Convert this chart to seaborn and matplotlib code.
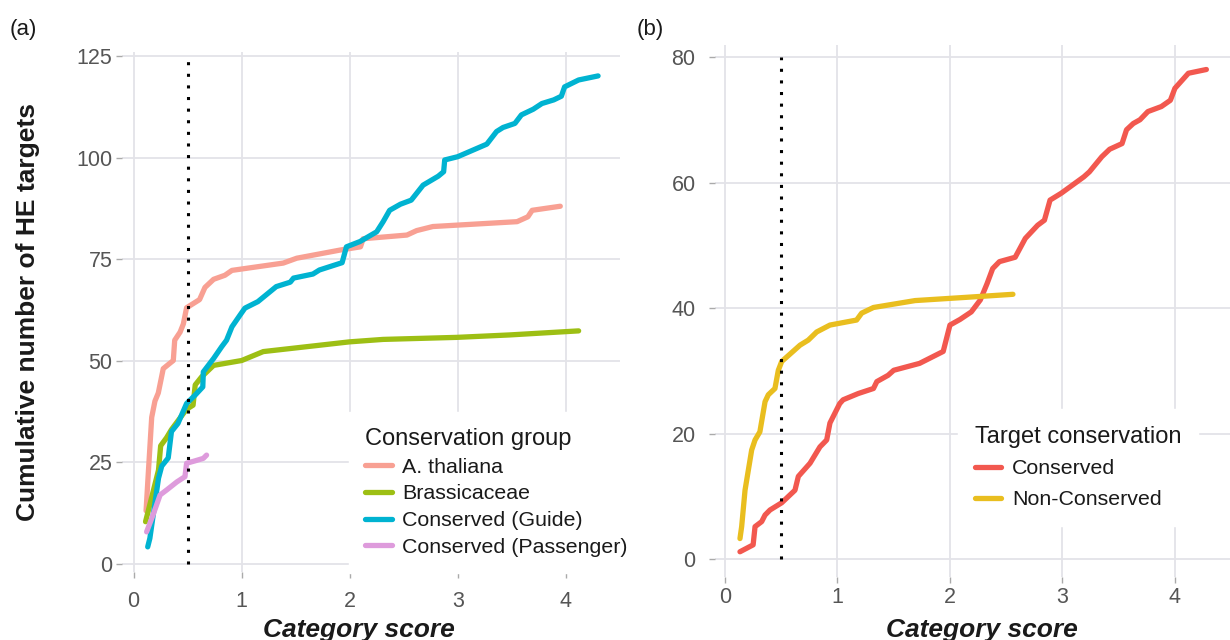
import numpy as np
import pandas as pd
import matplotlib
matplotlib.use("Agg")
import matplotlib.pyplot as plt
import seaborn as sns

# ---------------- data: panel (a) ----------------
ath_x = [0.115, 0.135, 0.167, 0.197, 0.228, 0.274, 0.32, 0.367, 0.38, 0.43, 0.46, 0.49, 0.61, 0.66,
         0.74, 0.845, 0.91, 1.385, 1.51, 1.91, 2.1, 2.125, 2.53, 2.62, 2.77, 3.55, 3.65, 3.69, 3.95]
ath_y = [13, 22, 36, 40, 42, 48, 49, 50, 55, 57, 59, 63, 65, 68,
         70, 71, 72.2, 74, 75.2, 77.2, 78, 80, 80.9, 82, 83, 84.2, 85.4, 87, 88]

bra_x = [0.11, 0.23, 0.25, 0.305, 0.35, 0.49, 0.55, 0.57, 0.63, 0.74, 1.0, 1.2, 2.0, 2.31, 2.99, 3.48, 4.12]
bra_y = [10.3, 23, 29, 31, 33, 38, 39, 44, 46, 48.8, 50, 52.2, 54.6, 55.2, 55.7, 56.3, 57.3]

gui_x = [0.13, 0.15, 0.23, 0.26, 0.32, 0.35, 0.41, 0.49, 0.57, 0.64, 0.645, 0.74, 0.815, 0.86, 0.91,
         0.985, 1.03, 1.15, 1.32, 1.45, 1.48, 1.66, 1.72, 1.93, 1.97, 2.095, 2.25, 2.31, 2.37, 2.47,
         2.57, 2.68, 2.82, 2.87, 2.88, 3.0, 3.27, 3.36, 3.42, 3.53, 3.59, 3.70, 3.78, 3.89, 3.96,
         3.99, 4.12, 4.30]
gui_y = [4.1, 6.2, 21, 24, 26, 32.5, 34.5, 39.4, 41.5, 43.5, 47.2, 50.5, 53.4, 55, 58.3,
         61.2, 62.9, 64.5, 68.2, 69.3, 70.3, 71.3, 72.3, 74.1, 78, 79.3, 81.7, 84.2, 87, 88.5,
         89.5, 93.2, 95.4, 96.5, 99.4, 100.2, 103.3, 106.4, 107.4, 108.4, 110.5, 111.9, 113.3, 114.2, 115.1,
         117.4, 119.1, 120.1]

pas_x = [0.12, 0.18, 0.245, 0.305, 0.4, 0.475, 0.49, 0.57, 0.645, 0.675]
pas_y = [7.8, 12, 16.9, 18.1, 20.1, 21.4, 24.7, 25.3, 25.9, 26.7]

groups_a = ["A. thaliana", "Brassicaceae", "Conserved (Guide)", "Conserved (Passenger)"]
colors_a = ["#F8A093", "#9DBF14", "#00B3D1", "#DE9BDC"]

# ---------------- data: panel (b) ----------------
con_x = [0.133, 0.25, 0.267, 0.326, 0.356, 0.4, 0.504, 0.622, 0.652, 0.756, 0.844, 0.904, 0.933,
         1.02, 1.05, 1.185, 1.32, 1.35, 1.45, 1.50, 1.73, 1.94, 2.0, 2.09, 2.19, 2.27, 2.33, 2.38,
         2.44, 2.58, 2.67, 2.78, 2.84, 2.89, 2.99, 3.19, 3.24, 3.35, 3.42, 3.53, 3.57, 3.63, 3.69,
         3.76, 3.88, 3.96, 4.0, 4.12, 4.28]
con_y = [1.2, 2.3, 5.2, 6, 7.05, 7.85, 9, 11, 13.2, 15.3, 17.9, 19, 21.7,
         24.8, 25.4, 26.4, 27.2, 28.3, 29.3, 30.1, 31.2, 33.1, 37.3, 38.2, 39.4, 41.3, 43.9, 46.3,
         47.4, 48.1, 51.1, 53.2, 54, 57.2, 58.3, 60.9, 61.7, 64.1, 65.3, 66.2, 68.4, 69.4, 70,
         71.3, 72.1, 73.1, 75, 77.4, 78]

non_x = [0.133, 0.148, 0.178, 0.237, 0.267, 0.31, 0.356, 0.385, 0.444, 0.474, 0.504, 0.667, 0.74,
         0.815, 0.933, 1.17, 1.215, 1.32, 1.69, 2.13, 2.56]
non_y = [3.3, 5.2, 11, 17.4, 19, 20.3, 25.1, 26.2, 27.2, 30.1, 31.5, 34.1, 34.9,
         36.2, 37.3, 38.1, 39.2, 40.1, 41.2, 41.7, 42.2]

groups_b = ["Conserved", "Non-Conserved"]
colors_b = ["#F2584F", "#E9BE1F"]

threshold = 0.5
x_ticks = [0, 1, 2, 3, 4]
y_ticks_a = [0, 25, 50, 75, 100, 125]
y_ticks_b = [0, 20, 40, 60, 80]

# ---------------- build frames ----------------
df_a = pd.concat([
    pd.DataFrame({"score": xs, "cum": ys, "group": g})
    for xs, ys, g in zip([ath_x, bra_x, gui_x, pas_x], [ath_y, bra_y, gui_y, pas_y], groups_a)
], ignore_index=True)
df_b = pd.concat([
    pd.DataFrame({"score": xs, "cum": ys, "group": g})
    for xs, ys, g in zip([con_x, non_x], [con_y, non_y], groups_b)
], ignore_index=True)

# ---------------- style ----------------
sns.set_theme(style="whitegrid")
plt.rcParams["font.family"] = ["Liberation Sans", "DejaVu Sans"]
grid_col = "#E3E3E8"
tick_col = "#555555"

W, H = 1230, 640
fig = plt.figure(figsize=(W / 100, H / 100), dpi=100)
fig.patch.set_facecolor("white")


def px_axes(l, t, r, b):
    return fig.add_axes([l / W, 1 - b / H, (r - l) / W, (b - t) / H])


ax_a = px_axes(122, 52, 620, 572)
ax_b = px_axes(715, 45, 1230, 577)

lw = 3.8
sns.lineplot(data=df_a, x="score", y="cum", hue="group", hue_order=groups_a,
             palette=colors_a, estimator=None, sort=False, linewidth=lw, ax=ax_a)
sns.lineplot(data=df_b, x="score", y="cum", hue="group", hue_order=groups_b,
             palette=colors_b, estimator=None, sort=False, linewidth=lw, ax=ax_b)

dot_style = (0, (1, 2.8))
ax_a.plot([threshold, threshold], [0, y_ticks_a[-1]], color="black", lw=2.2,
          linestyle=dot_style, dash_capstyle="butt", zorder=5)
ax_b.plot([threshold, threshold], [0, y_ticks_b[-1]], color="black", lw=2.2,
          linestyle=dot_style, dash_capstyle="butt", zorder=5)

# limits (ggplot-style expansion)
ax_a.set_xlim(-0.108, 4.503)
ax_a.set_ylim(-2.09, 125.99)
ax_b.set_xlim(-0.089, 4.49)
ax_b.set_ylim(-2.82, 81.9)

for ax, yt, ypad, xpad in [(ax_a, y_ticks_a, 3, 10), (ax_b, y_ticks_b, 10, 3)]:
    ax.set_xticks(x_ticks)
    ax.set_yticks(yt)
    ax.set_facecolor("white")
    for s in ax.spines.values():
        s.set_visible(False)
    ax.grid(True, color=grid_col, linewidth=1.3)
    ax.set_axisbelow(True)
    ax.tick_params(axis="both", which="major", length=4, width=1, color="#AAAAAA",
                   labelcolor=tick_col, labelsize=15.5, left=True, bottom=True)
    ax.tick_params(axis="y", pad=ypad)
    ax.tick_params(axis="x", pad=xpad)
    ax.set_xlabel("Category score", fontsize=19, fontweight="bold", fontstyle="italic",
                  color="#1A1A1A")

ax_a.set_ylabel("Cumulative number of HE targets", fontsize=19, fontweight="bold", color="#1A1A1A")
ax_a.yaxis.set_label_coords(-0.165, 0.5)
ax_b.set_ylabel("")
ax_a.xaxis.set_label_coords((359 - 122) / 498, -(618 - 572) / 520)
ax_b.xaxis.set_label_coords((982 - 715) / 515, -(618 - 577) / 532)

# legends
for ax, title, anchor, spacing, bpad in [
    (ax_a, "Conservation group", (349, 412), 0.36, 0.75),
    (ax_b, "Target conservation", (958, 409), 0.55, 0.78),
]:
    handles, labels = ax.get_legend_handles_labels()
    leg = ax.legend(handles, labels, title=title, loc="upper left",
                    bbox_to_anchor=(anchor[0] / W, 1 - anchor[1] / H),
                    bbox_transform=fig.transFigure, frameon=True, fancybox=False,
                    facecolor="white", edgecolor="white", framealpha=1,
                    fontsize=15.4, title_fontsize=17, handlelength=1.25,
                    handletextpad=0.5, labelspacing=spacing, borderpad=bpad,
                    borderaxespad=0, alignment="left")
    for line in leg.get_lines():
        line.set_linewidth(lw)
    leg.get_title().set_color("#1A1A1A")
    for t in leg.get_texts():
        t.set_color("#1A1A1A")
    leg.set_zorder(10)

fig.text(10 / W, 1 - 30 / H, "(a)", fontsize=16, va="center", ha="left", color="#1A1A1A")
fig.text(637 / W, 1 - 30 / H, "(b)", fontsize=16, va="center", ha="left", color="#1A1A1A")

fig.savefig("out.png", dpi=100, facecolor="white")
